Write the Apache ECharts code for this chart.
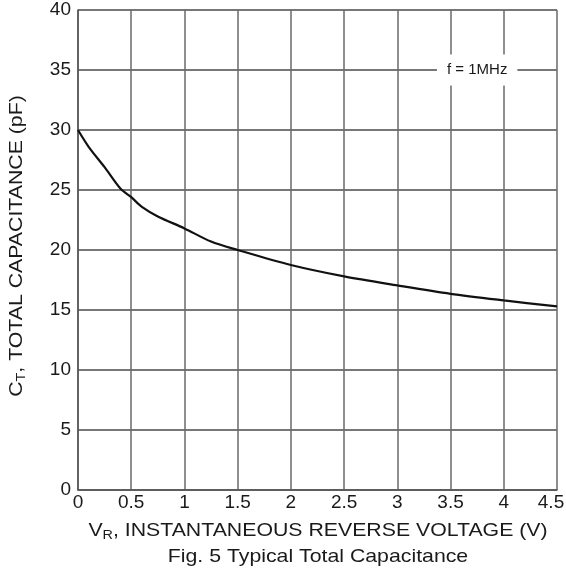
<!DOCTYPE html>
<html>
<head>
<meta charset="utf-8">
<script src="https://cdn.jsdelivr.net/npm/echarts@6/dist/echarts.min.js"></script>
<style>html,body{margin:0;padding:0;background:#fff;}#c{width:566px;height:570px;}</style>
</head>
<body>
<div id="c"></div>
<script>
// Data
const vr = [0, 0.1, 0.25, 0.4, 0.5, 0.6, 0.75, 1, 1.25, 1.5, 2, 2.5, 3, 3.5, 4, 4.5];
const ct = [30, 28.6, 26.9, 25.1, 24.4, 23.6, 22.8, 21.8, 20.7, 20.0, 18.75, 17.8, 17.05, 16.35, 15.8, 15.3];
const xTicks = [0, 0.5, 1, 1.5, 2, 2.5, 3, 3.5, 4, 4.5];
const yTicks = [0, 5, 10, 15, 20, 25, 30, 35, 40];
const noteText = 'f = 1MHz';
const notePos = [3.75, 35];
const xTitle = ['V', 'R', ', INSTANTANEOUS REVERSE VOLTAGE (V)'];
const yTitle = ['C', 'T', ', TOTAL CAPACITANCE (pF)'];
const caption = 'Fig. 5 Typical Total Capacitance';

const FONT = '"Liberation Sans", Arial, sans-serif';
const TXT = '#1a1a1a';
const chart = echarts.init(document.getElementById('c'), null, {renderer: 'canvas'});

const richName = {
  a: {fontSize: 18.5, fontFamily: FONT, fill: TXT, lineHeight: 22, verticalAlign: 'middle'},
  sub: {fontSize: 12.5, fontFamily: FONT, fill: TXT, lineHeight: 12, verticalAlign: 'bottom'}
};
const titleText = t => '{a|' + t[0] + '}{sub|' + t[1] + '}{a|' + t[2] + '}';
const xMax = xTicks[xTicks.length - 1];

chart.setOption({
  animation: false,
  backgroundColor: '#fff',
  grid: {left: 78, right: 9, top: 10, bottom: 80, containLabel: false, outerBoundsMode: 'none'},
  xAxis: {
    type: 'value', min: xTicks[0], max: xMax, interval: 0.5,
    axisLine: {show: true, lineStyle: {color: '#555', width: 1.5}},
    axisTick: {show: false},
    splitLine: {show: true, lineStyle: {color: '#6a6a6a', width: 1.5}},
    axisLabel: {
      fontSize: 19, fontFamily: FONT, color: TXT, margin: 3,
      formatter: v => (v === xMax ? '{last|' + v + '}' : String(v)),
      rich: {last: {fontSize: 19, fontFamily: FONT, color: TXT, padding: [0, 12, 0, 0]}}
    }
  },
  yAxis: {
    type: 'value', min: yTicks[0], max: yTicks[yTicks.length - 1], interval: 5,
    axisLine: {show: true, lineStyle: {color: '#555', width: 1.5}},
    axisTick: {show: false},
    splitLine: {show: true, lineStyle: {color: '#4a4a4a', width: 1.5}},
    axisLabel: {fontSize: 19, fontFamily: FONT, color: TXT, margin: 7}
  },
  series: [{
    type: 'line',
    data: vr.map((v, i) => [v, ct[i]]),
    smooth: 0.3,
    showSymbol: false,
    lineStyle: {color: '#111', width: 2.2},
    markPoint: {
      symbol: 'rect', symbolSize: 0,
      data: [{coord: notePos, value: noteText}],
      label: {
        show: true, position: 'inside', formatter: noteText,
        fontSize: 15, fontFamily: FONT, color: TXT,
        backgroundColor: '#fff', padding: [8, 10, 8, 10]
      }
    }
  }],
  graphic: [
    {
      type: 'text', x: 318, y: 531, scaleX: 1.15,
      style: {text: titleText(xTitle), rich: richName, align: 'center', verticalAlign: 'middle'}
    },
    {
      type: 'text', x: 17, y: 246, scaleX: 1.15, rotation: Math.PI / 2,
      style: {text: titleText(yTitle), rich: richName, align: 'center', verticalAlign: 'middle'}
    },
    {
      type: 'text', x: 318, y: 557, scaleX: 1.15,
      style: {text: caption, fontSize: 18.5, fontFamily: FONT, fill: TXT, align: 'center', verticalAlign: 'middle'}
    }
  ]
});
</script>
</body>
</html>
